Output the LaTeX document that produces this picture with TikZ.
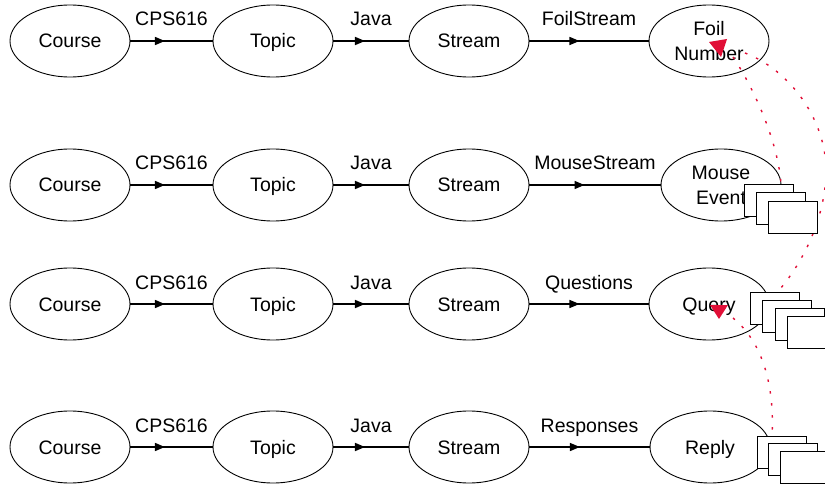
\documentclass[tikz,border=0pt]{standalone}
\usepackage{fontspec}
\setmainfont{Liberation Sans}
\usetikzlibrary{arrows.meta,decorations.markings,shapes.geometric}
\definecolor{dotred}{RGB}{225,15,55}
\begin{document}
\begin{tikzpicture}[x=1pt,y=-1pt,
  ell/.style={draw, ellipse, line width=0.9pt, minimum width=120pt, minimum height=72pt, inner sep=0pt, font=\fontsize{19.5}{25}\selectfont},
  one/.style={text height=14pt, text depth=0pt},
  two/.style={align=center},
  conn/.style={line width=1.5pt, postaction={decorate}, decoration={markings, mark=at position 0.42 with {\arrow{Triangle[length=10pt,width=8pt]}}}},
  lab/.style={anchor=base, font=\fontsize{19.5}{24}\selectfont, yshift=15pt, inner sep=0pt},
  doc/.style={draw, fill=white, line width=1pt, minimum width=49pt, minimum height=32pt, inner sep=0pt, anchor=north west},
  reddot/.style={dotred, line width=1.4pt, dash pattern=on 2.5pt off 9.5pt},
  redtip/.style={fill=dotred, draw=none}]
\useasboundingbox (0,0) rectangle (825,484);
% row 1
\node[ell,one] (c1) at (70,41) {Course};
\node[ell,one] (t1) at (273,41) {Topic};
\node[ell,one] (s1) at (469,41) {Stream};
\node[ell,two] (f1) at (709,41) {Foil\\Number};
% row 2
\node[ell,one] (c2) at (70,185) {Course};
\node[ell,one] (t2) at (273,185) {Topic};
\node[ell,one] (s2) at (469,185) {Stream};
\node[ell,two] (f2) at (721,185) {Mouse\\Event};
% row 3
\node[ell,one] (c3) at (70,304) {Course};
\node[ell,one] (t3) at (273,304) {Topic};
\node[ell,one] (s3) at (469,304) {Stream};
\node[ell,one] (f3) at (709,304) {Query};
% row 4
\node[ell,one] (c4) at (70,447) {Course};
\node[ell,one] (t4) at (273,447) {Topic};
\node[ell,one] (s4) at (469,447) {Stream};
\node[ell,one] (f4) at (710,447) {Reply};
% connectors
\foreach \r/\lbl in {1/FoilStream,2/MouseStream,3/Questions,4/Responses}{
  \draw[conn] (c\r) -- (t\r) node[midway,lab] {CPS616};
  \draw[conn] (t\r) -- (s\r) node[midway,lab] {Java};
  \draw[conn] (s\r) -- (f\r) node[midway,lab] {\lbl};
}
% red dotted curves
\coordinate (a0) at (733,57);
\coordinate (a1) at (781,184);
\coordinate (b0) at (745,53);
\coordinate (b1) at (826,170);
\coordinate (b2) at (770,300);
\coordinate (d0) at (733,318);
\coordinate (d1) at (772,437);
\draw[reddot] (a0) .. controls (752,85) and (778,140) .. (a1);
\draw[reddot] (b0) .. controls (790,70) and (826,120) .. (b1)
                   .. controls (826,220) and (800,270) .. (b2);
\draw[reddot] (d0) .. controls (760,340) and (775,380) .. (d1);
% document stacks
\node[doc] (m1) at (744,184) {};
\node[doc] (m2) at (756,192) {};
\node[doc] (m3) at (768,201) {};
\node[doc] (q1) at (750,292) {};
\node[doc] (q2) at (762,300) {};
\node[doc] (q3) at (775,308) {};
\node[doc] (q4) at (787,316) {};
\node[doc] (r1) at (757,436) {};
\node[doc] (r2) at (768,443) {};
\node[doc] (r3) at (780,451) {};
% red arrow tips
\fill[redtip] (709,42) -- (727,39) -- (721,57) -- cycle;
\fill[redtip] (710,305) -- (728,305) -- (719,319) -- cycle;
\end{tikzpicture}
\end{document}
